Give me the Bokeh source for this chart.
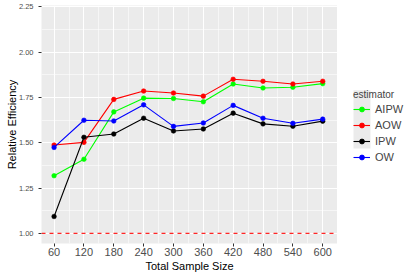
from bokeh.plotting import figure
from bokeh.layouts import row
from bokeh.models import FixedTicker, Span, Legend, LegendItem, Range1d
from bokeh.embed import file_html
from bokeh.resources import INLINE

sample_size = [60, 120, 180, 240, 300, 360, 420, 480, 540, 600]
aipw = [1.318, 1.409, 1.670, 1.746, 1.744, 1.726, 1.824, 1.802, 1.806, 1.826]
aow = [1.487, 1.502, 1.739, 1.785, 1.774, 1.757, 1.850, 1.839, 1.824, 1.839]
ipw = [1.093, 1.530, 1.548, 1.635, 1.565, 1.576, 1.663, 1.604, 1.591, 1.619]
ow = [1.474, 1.624, 1.620, 1.709, 1.590, 1.609, 1.706, 1.635, 1.607, 1.630]

estimators = ["AIPW", "AOW", "IPW", "OW"]
colors = ["#00FF00", "#FF0000", "#000000", "#0000FF"]
series = [aipw, aow, ipw, ow]

x_ticks = [60, 120, 180, 240, 300, 360, 420, 480, 540, 600]
x_minor = [30, 90, 150, 210, 270, 330, 390, 450, 510, 570, 630]
y_ticks = [1.00, 1.25, 1.50, 1.75, 2.00, 2.25]
y_minor = [0.875, 1.125, 1.375, 1.625, 1.875, 2.125]
y_labels = {1.0: "1.00", 1.25: "1.25", 1.5: "1.50", 1.75: "1.75", 2.0: "2.00", 2.25: "2.25"}

FONT = "Liberation Sans"

p = figure(width=337, height=277, x_range=(34.7, 629.7), y_range=(0.944, 2.257),
           output_backend="svg", toolbar_location=None,
           min_border_left=41, min_border_right=0, min_border_top=5, min_border_bottom=34)

p.background_fill_color = "#EBEBEB"
p.border_fill_color = "white"
p.outline_line_color = None

p.xaxis.ticker = FixedTicker(ticks=x_ticks, minor_ticks=x_minor)
p.yaxis.ticker = FixedTicker(ticks=y_ticks, minor_ticks=y_minor)
p.yaxis.major_label_overrides = y_labels

for ax in (p.xaxis, p.yaxis):
    ax.axis_line_color = None
    ax.major_tick_line_color = "#333333"
    ax.major_tick_in = 0
    ax.major_tick_out = 3
    ax.minor_tick_line_color = None
    ax.major_label_text_color = "#4D4D4D"
    ax.major_label_text_font = FONT
    ax.axis_label_text_font = FONT
    ax.axis_label_text_font_style = "normal"
    ax.axis_label_text_color = "black"
    ax.axis_label_text_font_size = "11px"

p.xaxis.major_label_text_font_size = "11px"
p.yaxis.major_label_text_font_size = "7.5px"
p.xaxis.major_label_standoff = 0
p.yaxis.major_label_standoff = 4
p.xaxis.axis_label = "Total Sample Size"
p.yaxis.axis_label = "Relative Efficiency"
p.xaxis.axis_label_standoff = 1
p.yaxis.axis_label_standoff = -2

p.grid.grid_line_color = "white"
p.grid.grid_line_width = 1.1
p.grid.minor_grid_line_color = "white"
p.grid.minor_grid_line_width = 0.55

p.add_layout(Span(location=1.0, dimension="width", line_color="#FF0000",
                  line_alpha=0.85, line_dash="4 4", line_width=1.1))

for name, col, vals in zip(estimators, colors, series):
    p.line(sample_size, vals, line_color=col, line_width=1.1)
    p.scatter(sample_size, vals, size=4.6, fill_color=col, line_color=col, line_width=0.6)

# legend panel
q = figure(width=78, height=277, x_range=Range1d(0, 78), y_range=Range1d(277, 0),
           output_backend="svg", toolbar_location=None,
           x_axis_type=None, y_axis_type=None, min_border=0)
q.outline_line_color = None
q.grid.visible = False
q.background_fill_color = "white"
q.border_fill_color = "white"

n = len(estimators)
q.quad(left=[16], right=[33], top=[98.5], bottom=[98.5 + 17 * n],
       fill_color="#EBEBEB", line_color=None)

items = []
for name, col in zip(estimators, colors):
    r1 = q.line(x=[-50, -40], y=[-50, -50], line_color=col, line_width=1.1)
    r2 = q.scatter(x=[-50], y=[-50], size=4.6, fill_color=col, line_color=col)
    items.append(LegendItem(label=name, renderers=[r1, r2]))

legend = Legend(items=items, title="estimator", location=(16, 78),
                margin=0, padding=0, spacing=0, glyph_width=17, glyph_height=12,
                label_standoff=5, label_text_font=FONT, label_text_font_size="11px",
                title_text_font=FONT, title_text_font_size="10px",
                title_text_font_style="normal", title_standoff=1,
                border_line_color=None, background_fill_alpha=0,
                label_height=16)
q.add_layout(legend)

layout = row(p, q)

open("out.html", "w").write(file_html(layout, INLINE))
